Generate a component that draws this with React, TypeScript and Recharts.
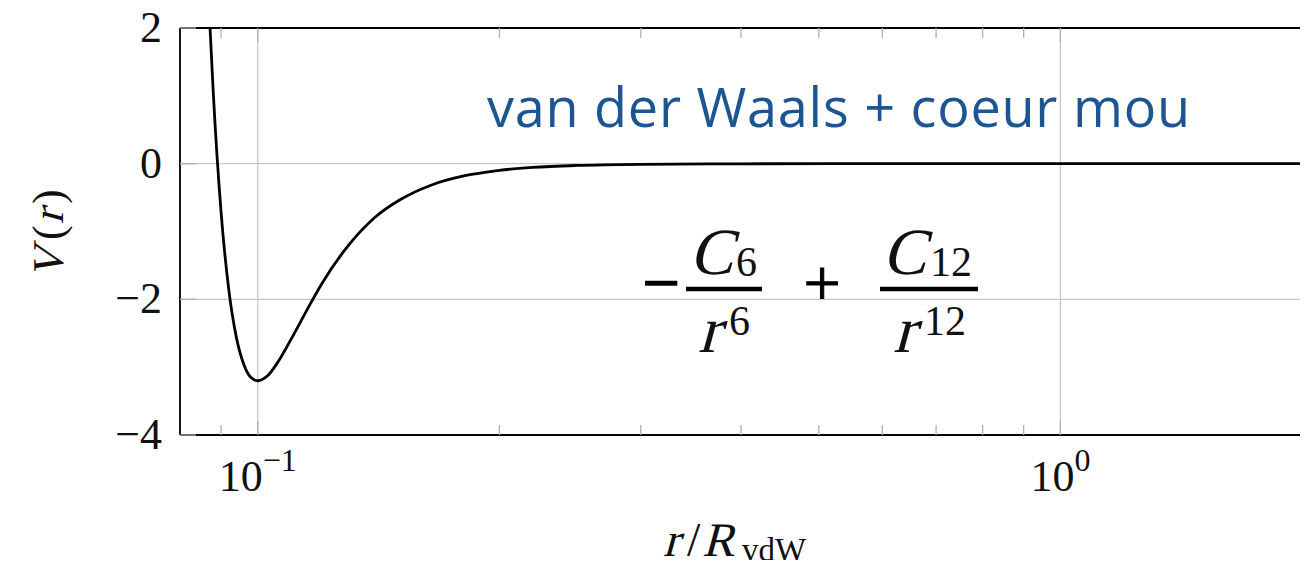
import React from 'react';
import { LineChart, Line, XAxis, YAxis, CartesianGrid } from 'recharts';

// Lennard-Jones type potential V(r) against r / R_vdW (log axis)
const radius = [
  0.0872, 0.088, 0.09, 0.092, 0.094, 0.096, 0.098, 0.1, 0.103, 0.106, 0.11,
  0.115, 0.12, 0.13, 0.14, 0.15, 0.165, 0.18, 0.2, 0.22, 0.25, 0.3, 0.4, 0.6,
  1, 2,
];
const potential = [
  2.0, 1.06, -0.71, -1.85, -2.55, -2.95, -3.15, -3.2, -3.12, -2.92, -2.59,
  -2.17, -1.78, -1.19, -0.79, -0.54, -0.31, -0.185, -0.099, -0.056, -0.026,
  -0.009, -0.0016, -0.0001, 0, 0,
];

const majorTicks = [0.1, 1];
const majorExponents = ['\u22121', '0'];
const minorTicks = [0.09, 0.2, 0.3, 0.4, 0.5, 0.6, 0.7, 0.8, 0.9, 2];
const allXTicks = [...majorTicks, ...minorTicks].sort((a, b) => a - b);
const yTicks = [-4, -2, 0, 2];
const yTickLabels = ['\u22124', '\u22122', '0', '2'];

const data = radius.map((r, i) => ({ r, v: potential[i] }));

const X_DOMAIN: [number, number] = [0.08, 2];
const Y_DOMAIN: [number, number] = [-4, 2];

const W = 1308;
const H = 568;

const serif: React.CSSProperties = { fontFamily: '"Liberation Serif", "DejaVu Serif", serif' };
const sans: React.CSSProperties = { fontFamily: '"Open Sans", Lato, sans-serif' };
const INK = '#111';
const TICK_GREY = '#b0b0b0';
const GRID_GREY = '#c8c8c8';

// math-italic letter: upright serif glyph with a slant
const Slant = ({ x, y, size, children }: { x: number; y: number; size: number; children: React.ReactNode }) => (
  <text transform={`translate(${x},${y}) skewX(-15)`} fontSize={size} style={serif} fill={INK}>
    {children}
  </text>
);

const Upright = ({ x, y, size, children }: { x: number; y: number; size: number; children: React.ReactNode }) => (
  <text x={x} y={y} fontSize={size} style={serif} fill={INK}>
    {children}
  </text>
);

const BottomTick = (props: any) => {
  const { x, y, payload } = props;
  const idx = majorTicks.indexOf(payload.value);
  const major = idx >= 0;
  return (
    <g>
      <line x1={x} x2={x} y1={y} y2={y - (major ? 14 : 10)} stroke={TICK_GREY} strokeWidth={1.3} />
      {major && (
        <text x={x} y={y + 56} textAnchor="middle" style={serif} fontSize={44} fill={INK}>
          10
          <tspan dy={-20} fontSize={32}>
            {majorExponents[idx]}
          </tspan>
        </text>
      )}
    </g>
  );
};

const TopTick = (props: any) => {
  const { x, y, payload } = props;
  const major = majorTicks.includes(payload.value);
  return <line x1={x} x2={x} y1={y} y2={y + (major ? 14 : 10)} stroke={TICK_GREY} strokeWidth={1.3} />;
};

const LeftTick = (props: any) => {
  const { x, y, payload } = props;
  const idx = yTicks.indexOf(payload.value);
  return (
    <g>
      <line x1={x} x2={x + 16} y1={y} y2={y} stroke={TICK_GREY} strokeWidth={1.3} />
      <text x={x - 18} y={y + 14} textAnchor="end" style={serif} fontSize={44} fill={INK}>
        {yTickLabels[idx]}
      </text>
    </g>
  );
};

const RightTick = (props: any) => {
  const { x, y } = props;
  return <line x1={x} x2={x - 16} y1={y} y2={y} stroke={TICK_GREY} strokeWidth={1.3} />;
};

const frame = { stroke: '#000', strokeWidth: 1.8 };

export default function App() {
  return (
    <div style={{ position: 'relative', width: W, height: H, margin: -8 }}>
      <LineChart width={W} height={H} data={data} margin={{ top: 0, right: 0, bottom: 0, left: 0 }}>
        <CartesianGrid xAxisId="grid" yAxisId="left" stroke={GRID_GREY} strokeWidth={1.3} />
        <XAxis
          xAxisId="grid"
          dataKey="r"
          type="number"
          scale="log"
          domain={X_DOMAIN}
          allowDataOverflow
          ticks={majorTicks}
          hide
        />
        <XAxis
          xAxisId="bottom"
          dataKey="r"
          type="number"
          scale="log"
          domain={X_DOMAIN}
          allowDataOverflow
          ticks={allXTicks}
          interval={0}
          height={133}
          tickSize={0}
          tickMargin={0}
          tickLine={false}
          axisLine={frame}
          tick={<BottomTick />}
        />
        <XAxis
          xAxisId="top"
          orientation="top"
          dataKey="r"
          type="number"
          scale="log"
          domain={X_DOMAIN}
          allowDataOverflow
          ticks={allXTicks}
          interval={0}
          height={28}
          tickSize={0}
          tickMargin={0}
          tickLine={false}
          axisLine={frame}
          tick={<TopTick />}
        />
        <YAxis
          yAxisId="left"
          type="number"
          domain={Y_DOMAIN}
          ticks={yTicks}
          interval={0}
          width={180}
          tickSize={0}
          tickMargin={0}
          tickLine={false}
          axisLine={frame}
          tick={<LeftTick />}
        />
        <YAxis
          yAxisId="right"
          orientation="right"
          type="number"
          domain={Y_DOMAIN}
          ticks={yTicks}
          interval={0}
          width={6}
          tickSize={0}
          tickMargin={0}
          tickLine={false}
          axisLine={frame}
          tick={<RightTick />}
        />
        <Line
          xAxisId="bottom"
          yAxisId="left"
          dataKey="v"
          type="monotone"
          stroke="#000"
          strokeWidth={2.8}
          dot={false}
          activeDot={false}
          isAnimationActive={false}
        />
      </LineChart>
      <svg
        width={W}
        height={H}
        style={{ position: 'absolute', left: 0, top: 0, pointerEvents: 'none' }}
      >
        {/* y-axis title V(r) */}
        <g transform="translate(63,233) rotate(-90)">
          <Slant x={-46} y={0} size={44}>V</Slant>
          <Upright x={-7} y={0} size={44}>(</Upright>
          <Slant x={9} y={0} size={44}>r</Slant>
          <Upright x={29} y={0} size={44}>)</Upright>
        </g>

        {/* x-axis title r/R_vdW */}
        <g>
          <Slant x={663} y={556} size={48}>r</Slant>
          <Upright x={687} y={556} size={48}>/</Upright>
          <Slant x={702} y={556} size={48}>R</Slant>
          <Upright x={742} y={561} size={33}>vdW</Upright>
        </g>

        {/* caption */}
        <text x={487} y={127} style={sans} fontSize={54} fill="#1d5592" textLength={703} lengthAdjust="spacing">
          van der Waals + coeur mou
        </text>

        {/* formula: -C6/r^6 + C12/r^12 */}
        <g>
          <text x={661} y={305} fontSize={66} textAnchor="middle" style={serif} fill="#000" stroke="#000" strokeWidth={1.6}>
            {'\u2212'}
          </text>
          <Slant x={689} y={274} size={66}>C</Slant>
          <Upright x={736} y={276} size={42}>6</Upright>
          <line x1={686} x2={762} y1={289} y2={289} stroke="#000" strokeWidth={4.5} />
          <Slant x={698} y={352} size={66}>r</Slant>
          <Upright x={729} y={335} size={42}>6</Upright>

          <text x={822} y={305} fontSize={66} textAnchor="middle" style={serif} fill="#000" stroke="#000" strokeWidth={1}>
            +
          </text>

          <Slant x={882} y={274} size={66}>C</Slant>
          <Upright x={930} y={276} size={42}>12</Upright>
          <line x1={880} x2={978} y1={289} y2={289} stroke="#000" strokeWidth={4.5} />
          <Slant x={893} y={352} size={66}>r</Slant>
          <Upright x={924} y={335} size={42}>12</Upright>
        </g>
      </svg>
    </div>
  );
}
